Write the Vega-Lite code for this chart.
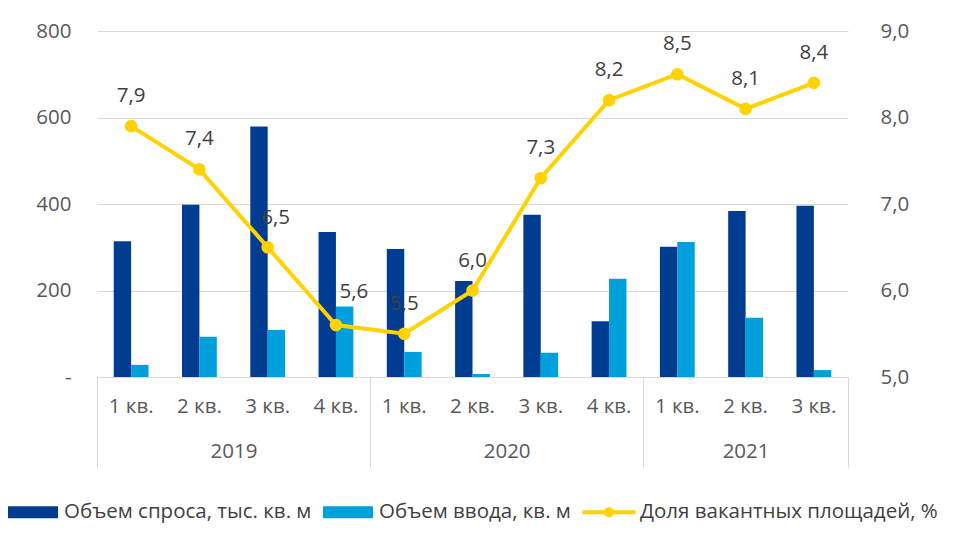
{
  "$schema": "https://vega.github.io/schema/vega-lite/v6.json",
  "autosize": {"type": "none"},
  "padding": {"left": 97, "top": 31, "right": 105, "bottom": 157},
  "width": 751,
  "height": 346,
  "data": {
    "values": [
      {"q": "2019|1 кв.", "demand": 314, "supply": 28, "vacancy": 7.9},
      {"q": "2019|2 кв.", "demand": 398, "supply": 93, "vacancy": 7.4},
      {"q": "2019|3 кв.", "demand": 579, "supply": 109, "vacancy": 6.5},
      {"q": "2019|4 кв.", "demand": 335, "supply": 163, "vacancy": 5.6},
      {"q": "2020|1 кв.", "demand": 296, "supply": 58, "vacancy": 5.5},
      {"q": "2020|2 кв.", "demand": 222, "supply": 7, "vacancy": 6.0},
      {"q": "2020|3 кв.", "demand": 375, "supply": 56, "vacancy": 7.3},
      {"q": "2020|4 кв.", "demand": 129, "supply": 227, "vacancy": 8.2},
      {"q": "2021|1 кв.", "demand": 301, "supply": 312, "vacancy": 8.5},
      {"q": "2021|2 кв.", "demand": 384, "supply": 137, "vacancy": 8.1},
      {"q": "2021|3 кв.", "demand": 396, "supply": 16, "vacancy": 8.4}
    ]
  },
  "layer": [
    {
      "layer": [
        {
          "transform": [{"fold": ["demand", "supply"], "as": ["series", "value"]}],
          "mark": {"type": "bar"},
          "encoding": {
            "x": {
              "field": "q", "type": "nominal", "sort": null,
              "scale": {"paddingInner": 0.49, "paddingOuter": 0.245},
              "axis": {
                "title": null, "labelAngle": 0, "ticks": false, "domainColor": "#d9d9d9", "domainWidth": 1,
                "labelPadding": 19, "labelFontSize": 20.5, "labelColor": "#595959",
                "labelExpr": "split(datum.label, '|')[1]"
              }
            },
            "xOffset": {"field": "series", "type": "nominal", "scale": {"domain": ["demand", "supply"], "paddingInner": 0, "paddingOuter": 0}},
            "y": {
              "field": "value", "type": "quantitative",
              "scale": {"domain": [0, 800], "nice": false},
              "axis": {
                "title": null, "values": [0, 200, 400, 600, 800], "domain": false, "ticks": false,
                "grid": true, "gridColor": "#d9d9d9", "gridWidth": 1,
                "labelPadding": 26, "labelFontSize": 20.5, "labelColor": "#595959",
                "labelExpr": "datum.value == 0 ? '-' : format(datum.value, 'd')"
              }
            },
            "color": {
              "field": "series", "type": "nominal",
              "scale": {"domain": ["demand", "supply", "vacancy"], "range": ["#003C8F", "#00A0DC", "#FFD200"]},
              "legend": {
                "orient": "none", "legendX": -89, "legendY": 456, "direction": "horizontal",
                "title": null, "padding": 0, "columnPadding": 11, "labelOffset": 6,
                "labelFontSize": 20.5, "labelColor": "#404040", "labelLimit": 500,
                "symbolSize": 2500,
                "labelExpr": "datum.value == 'demand' ? 'Объем спроса, тыс. кв. м' : datum.value == 'supply' ? 'Объем ввода, кв. м' : 'Доля вакантных площадей, %'",
                "encode": {
                  "symbols": {
                    "update": {
                      "shape": {"signal": "datum.value === 'vacancy' ? 'M-1.06,-0.08H1.06V0.08H-1.06Z M-0.2,0A0.2,0.2,0,1,1,0.2,0A0.2,0.2,0,1,1,-0.2,0Z' : 'M-1,-0.24H1V0.24H-1Z'"},
                      "fill": {"scale": "color", "field": "value"},
                      "stroke": {"value": "transparent"},
                      "strokeWidth": {"value": 0},
                      "opacity": {"value": 1},
                      "fillOpacity": {"value": 1}
                    }
                  }
                }
              }
            }
          }
        },
        {
          "transform": [{"fold": ["vacancy"], "as": ["series", "share"]}],
          "mark": {"type": "line", "strokeWidth": 4, "point": {"filled": true, "size": 160, "opacity": 1}},
          "encoding": {
            "x": {"field": "q", "type": "nominal", "sort": null},
            "y": {
              "field": "share", "type": "quantitative",
              "scale": {"domain": [5, 9], "nice": false, "zero": false},
              "axis": {
                "orient": "right", "title": null, "values": [5, 6, 7, 8, 9], "format": ".1f",
                "domain": false, "ticks": false, "grid": false, "labelAlign": "left",
                "labelPadding": 32, "labelFontSize": 20.5, "labelColor": "#595959"
              }
            },
            "color": {"field": "series", "type": "nominal"}
          }
        },
        {
          "transform": [{"filter": "datum.q != '2019|3 кв.' && datum.q != '2019|4 кв.'"}],
          "mark": {"type": "text", "dy": -30, "fontSize": 20.5, "color": "#404040"},
          "encoding": {
            "x": {"field": "q", "type": "nominal", "sort": null},
            "y": {"field": "vacancy", "type": "quantitative", "scale": {"domain": [5, 9], "nice": false, "zero": false}, "axis": null},
            "text": {"field": "vacancy", "type": "quantitative", "format": ".1f"}
          }
        },
        {
          "transform": [{"filter": "datum.q == '2019|3 кв.'"}],
          "mark": {"type": "text", "dy": -29, "dx": 8, "fontSize": 20.5, "color": "#404040"},
          "encoding": {
            "x": {"field": "q", "type": "nominal", "sort": null},
            "y": {"field": "vacancy", "type": "quantitative", "scale": {"domain": [5, 9], "nice": false, "zero": false}, "axis": null},
            "text": {"field": "vacancy", "type": "quantitative", "format": ".1f"}
          }
        },
        {
          "transform": [{"filter": "datum.q == '2019|4 кв.'"}],
          "mark": {"type": "text", "dy": -33, "dx": 18, "fontSize": 20.5, "color": "#404040"},
          "encoding": {
            "x": {"field": "q", "type": "nominal", "sort": null},
            "y": {"field": "vacancy", "type": "quantitative", "scale": {"domain": [5, 9], "nice": false, "zero": false}, "axis": null},
            "text": {"field": "vacancy", "type": "quantitative", "format": ".1f"}
          }
        }
      ],
      "resolve": {"scale": {"y": "independent"}}
    },
    {
      "data": {"values": [{}]},
      "mark": {"type": "rule", "opacity": 0},
      "encoding": {
        "x": {
          "datum": 0, "type": "quantitative",
          "scale": {"domain": [0, 11], "nice": false, "zero": false},
          "axis": {
            "orient": "bottom", "title": null, "values": [2, 6, 9.5], "domain": false, "ticks": false, "grid": false,
            "labelPadding": 64, "labelFontSize": 20.5, "labelColor": "#595959",
            "labelExpr": "datum.value == 2 ? '2019' : datum.value == 6 ? '2020' : '2021'"
          }
        }
      }
    },
    {
      "data": {"values": [{}]},
      "mark": {"type": "rule", "opacity": 0},
      "encoding": {
        "x": {
          "datum": 0, "type": "quantitative",
          "scale": {"domain": [0, 11], "nice": false, "zero": false},
          "axis": {
            "orient": "bottom", "title": null, "values": [0, 4, 8, 11], "domain": false, "labels": false, "grid": false,
            "ticks": true, "tickSize": 90, "tickColor": "#d9d9d9", "tickWidth": 1
          }
        }
      }
    }
  ],
  "resolve": {"scale": {"x": "independent"}},
  "config": {
    "font": "Open Sans",
    "view": {"stroke": null},
    "axisRight": {"labelPadding": 32, "labelAlign": "left"},
    "locale": {"number": {"decimal": ",", "thousands": " ", "grouping": [3], "currency": ["", ""]}}
  }
}
